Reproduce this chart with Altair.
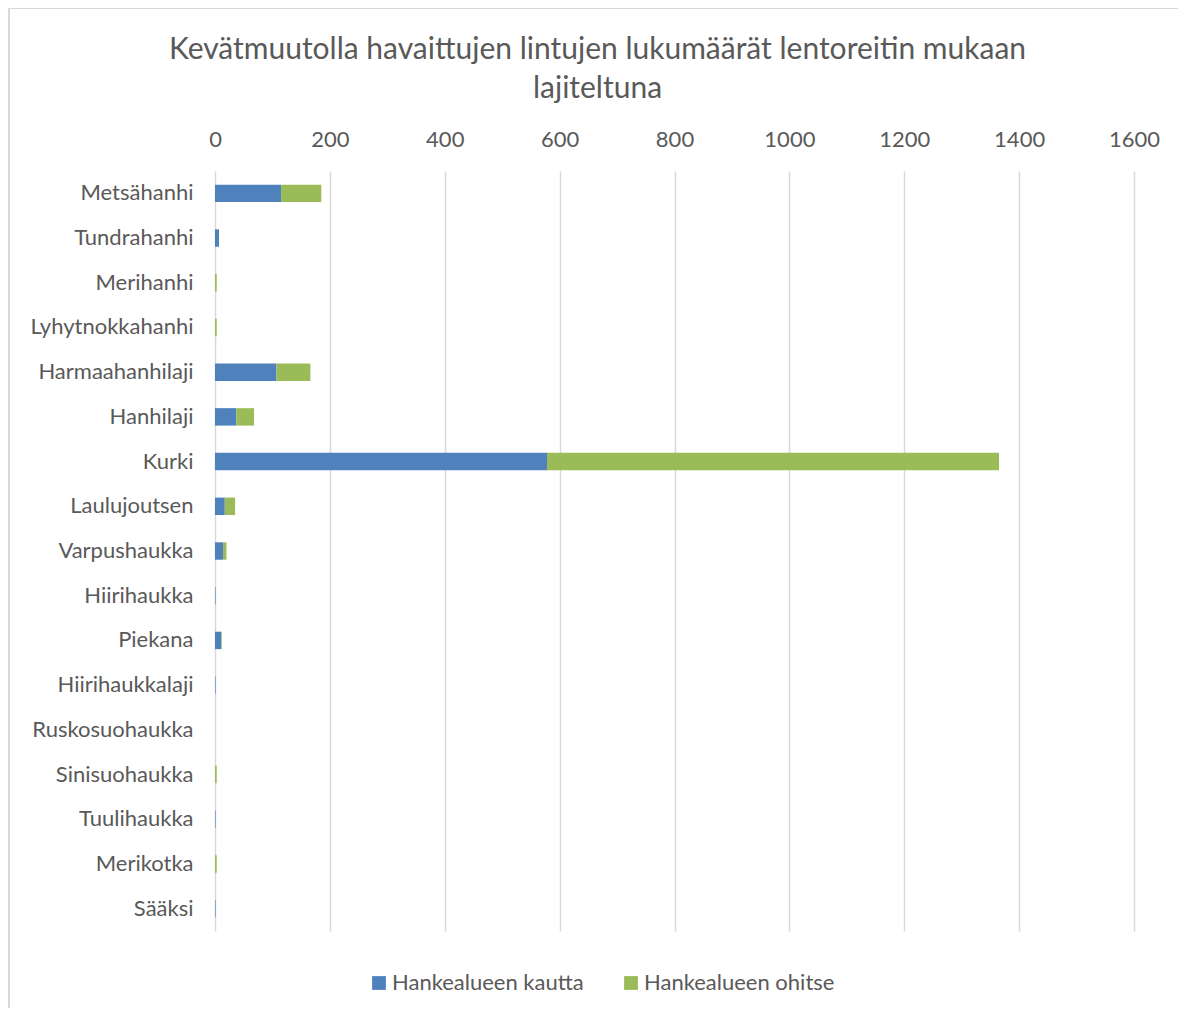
import altair as alt
import pandas as pd

species = ["Metsähanhi", "Tundrahanhi", "Merihanhi", "Lyhytnokkahanhi", "Harmaahanhilaji",
           "Hanhilaji", "Kurki", "Laulujoutsen", "Varpushaukka", "Hiirihaukka", "Piekana",
           "Hiirihaukkalaji", "Ruskosuohaukka", "Sinisuohaukka", "Tuulihaukka", "Merikotka", "Sääksi"]
kautta = [115, 7, 0, 0, 107, 37, 578, 17, 14, 1, 11, 1, 0, 0, 1, 0, 1]
ohitse = [70, 0, 3, 3, 59, 31, 787, 18, 6, 0, 1, 0, 0, 3, 0, 3, 0]
series = ["Hankealueen kautta", "Hankealueen ohitse"]
colors = ["#4f81bd", "#9bbb59"]

rows = []
for s, a, b in zip(species, kautta, ohitse):
    rows.append({"laji": s, "sarja": series[0], "arvo": a, "jarj": 0})
    rows.append({"laji": s, "sarja": series[1], "arvo": b, "jarj": 1})
df = pd.DataFrame(rows)

FONT = "Lato"
GREY = "#595959"

bars = alt.Chart(df).mark_bar().encode(
    y=alt.Y("laji:N", sort=species, title=None,
            scale=alt.Scale(paddingInner=0.61, paddingOuter=0.305),
            axis=alt.Axis(ticks=False, domain=False, labelPadding=22, labelFontSize=22,
                          labelColor=GREY, labelFont=FONT, grid=False, labelLimit=300)),
    x=alt.X("arvo:Q", stack="zero", title=None,
            scale=alt.Scale(domain=[0, 1600], nice=False),
            axis=alt.Axis(orient="top", values=list(range(0, 1601, 200)), ticks=False,
                          format="d", labelFlush=False,
                          domain=False, labelPadding=20, labelFontSize=22, labelColor=GREY,
                          labelFont=FONT, gridColor="#d9d9d9", gridWidth=1.5)),
    color=alt.Color("sarja:N", scale=alt.Scale(domain=series, range=colors), title=None,
                    legend=alt.Legend(orient="none", legendX=153, legendY=801,
                                      direction="horizontal", symbolType="square",
                                      symbolSize=190, symbolStrokeWidth=0,
                                      labelFontSize=22, labelColor=GREY, labelFont=FONT,
                                      labelLimit=400, columnPadding=36, symbolOffset=0,
                                      labelOffset=2)),
    order=alt.Order("jarj:Q"),
)

# light chart-area frame (left and top edges, as in the reference crop)
frame_left = alt.Chart().mark_rule(color="#d9d9d9", strokeWidth=2).encode(
    x=alt.value(-206), y=alt.value(-163), y2=alt.value(837))
frame_top = alt.Chart().mark_rule(color="#d9d9d9", strokeWidth=2).encode(
    x=alt.value(-206), x2=alt.value(963), y=alt.value(-163))

chart = alt.layer(frame_left, frame_top, bars).properties(
    width=919, height=760,
    background="white",
    autosize=alt.AutoSizeParams(type="none"),
    padding={"left": 207, "top": 163, "right": 44, "bottom": 77},
    title=alt.TitleParams(
        ["Kevätmuutolla havaittujen lintujen lukumäärät lentoreitin mukaan", "lajiteltuna"],
        fontSize=30, font=FONT, fontWeight="normal", color=GREY, anchor="middle",
        frame="group", dx=-77, offset=-97, lineHeight=39),
).configure_view(stroke=None)

chart.save("out.html", embed_options={"renderer": "svg", "actions": False})
